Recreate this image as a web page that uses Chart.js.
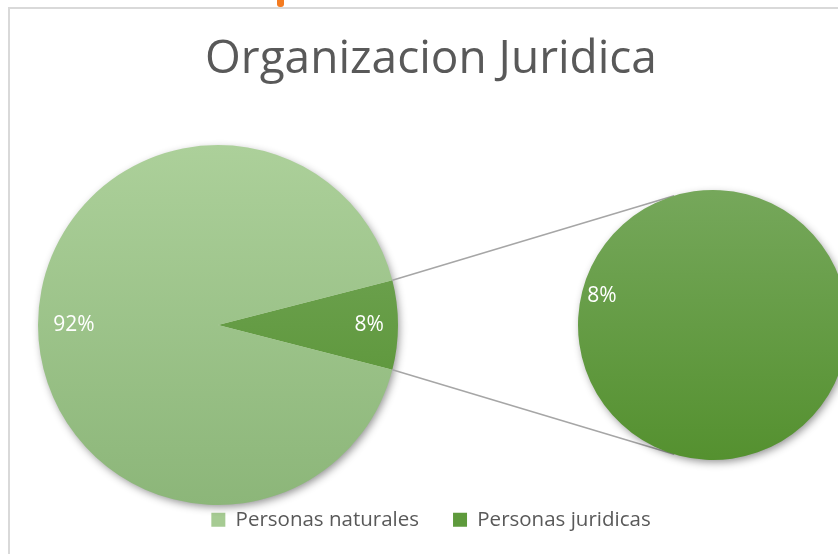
<!DOCTYPE html>
<html>
<head>
<meta charset="utf-8">
<script src="https://cdn.jsdelivr.net/npm/chart.js@4.4.1/dist/chart.umd.min.js"></script>
<style>
  html, body { margin: 0; padding: 0; background: #fff; overflow: hidden; }
  #wrap { position: relative; width: 838px; height: 554px; overflow: hidden; }
  #frame { position: absolute; left: 8px; top: 7px; width: 860px; height: 580px;
           border-top: 2px solid #d9d9d9; border-left: 2px solid #d9d9d9; }
  #mark { position: absolute; left: 277px; top: 0; width: 7px; height: 7px;
          background: #f47b20; border-radius: 0 0 3px 3px; }
  #main { position: absolute; left: 0; top: 0; }
  #sub { position: absolute; left: 558px; top: 170px; }
</style>
</head>
<body>
<div id="wrap">
  <div id="frame"></div>
  <div id="mark"></div>
  <canvas id="main" width="838" height="554"></canvas>
  <canvas id="sub" width="310" height="310"></canvas>
</div>
<script>
// datos
const titleText = 'Organizacion Juridica';
const categories = ['Personas naturales', 'Personas juridicas'];
const values = [92, 8];
// segundo grafico: desglose de "Personas juridicas"
const subValues = [8];

// colores (degradado de arriba hacia abajo)
const colorTop = ['#acd09a', '#78a95e'];
const colorBottom = ['#8cb679', '#528f2c'];
const legendColors = ['#a6cb93', '#5e9a3c'];

const total = values.reduce((a, b) => a + b, 0);
// la porcion pequena queda centrada a la derecha (90 grados)
const rotation = 90 + (values[1] / total) * 180;

// posicion del pie principal
const mainPos = { cx: 218, cy: 325, r: 180 };

function gradFill(c, colorIndex) {
  const area = c.chart.chartArea;
  if (!area) return colorTop[colorIndex];
  const g = c.chart.ctx.createLinearGradient(0, area.top, 0, area.bottom);
  g.addColorStop(0, colorTop[colorIndex]);
  g.addColorStop(1, colorBottom[colorIndex]);
  return g;
}

// sombra debajo del pie
const pieShadow = {
  id: 'pieShadow',
  beforeDatasetsDraw(chart) {
    const arc = chart.getDatasetMeta(0).data[0];
    const ctx = chart.ctx;
    ctx.save();
    ctx.shadowColor = 'rgba(0,0,0,0.45)';
    ctx.shadowBlur = 9;
    ctx.shadowOffsetX = 2;
    ctx.shadowOffsetY = 3;
    ctx.beginPath();
    ctx.arc(arc.x, arc.y, arc.outerRadius - 1, 0, Math.PI * 2);
    ctx.fillStyle = '#fff';
    ctx.fill();
    ctx.restore();
  }
};

// etiquetas de porcentaje
const pctLabels = {
  id: 'pctLabels',
  afterDatasetsDraw(chart, args, opts) {
    const ctx = chart.ctx;
    const vals = chart.data.datasets[0].data;
    chart.getDatasetMeta(0).data.forEach((arc, i) => {
      const mid = (arc.startAngle + arc.endAngle) / 2;
      const rr = arc.outerRadius * opts.dist[i];
      const x = arc.x + Math.cos(mid) * rr;
      const y = arc.y + Math.sin(mid) * rr;
      ctx.save();
      ctx.fillStyle = '#ffffff';
      ctx.font = '21px "Open Sans"';
      ctx.textAlign = 'center';
      ctx.textBaseline = 'middle';
      ctx.fillText(Math.round(vals[i] / total * 100) + '%', x, y);
      ctx.restore();
    });
  }
};

// grafico secundario
const subCanvas = document.getElementById('sub');
const subChart = new Chart(subCanvas, {
  type: 'pie',
  data: {
    labels: [categories[1]],
    datasets: [{
      data: subValues,
      backgroundColor: (c) => gradFill(c, 1),
      borderWidth: 0
    }]
  },
  options: {
    responsive: false,
    animation: false,
    events: [],
    rotation: rotation,
    radius: 135,
    plugins: {
      legend: { display: false },
      tooltip: { enabled: false },
      pctLabels: { dist: [0.85] }
    }
  },
  plugins: [pieShadow, pctLabels]
});

// coloca el pie principal a la izquierda
const placePie = {
  id: 'placePie',
  afterLayout(chart) {
    const a = chart.chartArea;
    a.left = mainPos.cx - mainPos.r;
    a.right = mainPos.cx + mainPos.r;
    a.top = mainPos.cy - mainPos.r;
    a.bottom = mainPos.cy + mainPos.r;
    a.width = a.right - a.left;
    a.height = a.bottom - a.top;
  }
};

// lineas que unen los dos pies
const connectors = {
  id: 'connectors',
  afterDatasetsDraw(chart) {
    const arc = chart.getDatasetMeta(0).data[1];
    const s = subChart.getDatasetMeta(0).data[0];
    const sx = subCanvas.offsetLeft + s.x;
    const sy = subCanvas.offsetTop + s.y;
    const sr = s.outerRadius;
    const ctx = chart.ctx;
    ctx.save();
    ctx.strokeStyle = '#a6a6a6';
    ctx.lineWidth = 1.5;
    [arc.startAngle, arc.endAngle].forEach((ang, k) => {
      const px = arc.x + Math.cos(ang) * arc.outerRadius;
      const py = arc.y + Math.sin(ang) * arc.outerRadius;
      const base = Math.atan2(py - sy, px - sx);
      const off = Math.acos(sr / Math.hypot(px - sx, py - sy));
      const t = k === 0 ? base + off : base - off;
      ctx.beginPath();
      ctx.moveTo(px, py);
      ctx.lineTo(sx + Math.cos(t) * sr, sy + Math.sin(t) * sr);
      ctx.stroke();
    });
    ctx.restore();
  }
};

const mainChart = new Chart(document.getElementById('main'), {
  type: 'pie',
  data: {
    labels: categories,
    datasets: [{
      data: values,
      backgroundColor: (c) => gradFill(c, c.dataIndex),
      borderWidth: 0
    }]
  },
  options: {
    responsive: false,
    animation: false,
    events: [],
    rotation: rotation,
    layout: { padding: { left: 24, bottom: 14 } },
    plugins: {
      title: {
        display: true,
        text: titleText,
        color: '#595959',
        font: { family: '"Open Sans"', size: 46, weight: 'normal' },
        padding: { top: 32, bottom: 0 }
      },
      legend: {
        position: 'bottom',
        labels: {
          color: '#595959',
          font: { family: '"Open Sans"', size: 20.5 },
          boxWidth: 14,
          boxHeight: 14,
          padding: 34,
          generateLabels: () => categories.map((t, i) => ({
            text: t, fillStyle: legendColors[i], strokeStyle: legendColors[i],
            lineWidth: 0, hidden: false, index: i, fontColor: '#595959'
          }))
        }
      },
      tooltip: { enabled: false },
      pctLabels: { dist: [0.8, 0.84] }
    }
  },
  plugins: [placePie, pieShadow, pctLabels, connectors]
});
</script>
</body>
</html>
